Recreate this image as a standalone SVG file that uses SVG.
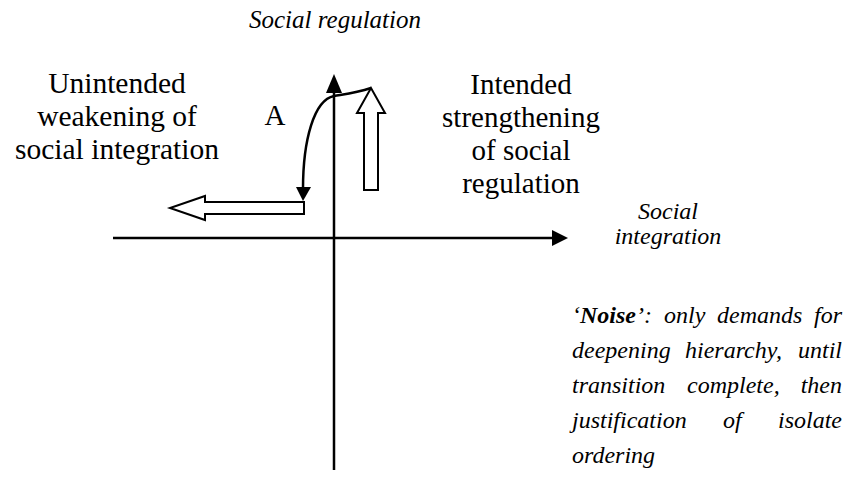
<svg xmlns="http://www.w3.org/2000/svg" width="852" height="481" viewBox="0 0 852 481">
<style>
.up{font-family:"Liberation Serif","Times New Roman",serif;font-size:29px;fill:#000;text-anchor:middle}
.it{font-family:"Liberation Serif","Times New Roman",serif;font-style:italic;font-size:24px;fill:#000}
.ln{stroke:#000;stroke-width:2.5;fill:none}
.hol{stroke:#000;stroke-width:2;fill:#fff;stroke-linejoin:miter}
.head{fill:#000;stroke:none}
</style>
<rect width="852" height="481" fill="#fff"/>
<g id="connectors">
  <g id="axis-y">
    <line class="ln" x1="334" y1="470" x2="334" y2="90"/>
    <polygon class="head" points="334,74 326,93 342,93"/>
  </g>
  <g id="axis-x">
    <line class="ln" x1="113" y1="238" x2="554" y2="238"/>
    <polygon class="head" points="568,238 552,230 552,246"/>
  </g>
  <g id="curve-A">
    <path class="ln" d="M371,88 C356,93 346,94 334,96 C314,100 303,140 303,189"/>
    <polygon class="head" points="303,201 296,187 311,187"/>
  </g>
</g>
<g id="arrow-up">
  <polygon class="hol" points="364,190 378,190 378,113 385,113 371,88 357,113 364,113"/>
</g>
<g id="arrow-left">
  <polygon class="hol" points="304,202 304,214 205,214 205,220 170,208 205,196 205,202"/>
</g>
<g id="label-y">
  <text class="it" x="335" y="28" text-anchor="middle" style="font-size:25px">Social regulation</text>
</g>
<g id="label-x">
  <text class="it" text-anchor="middle" x="668" y="219">Social</text>
  <text class="it" text-anchor="middle" x="668" y="244">integration</text>
</g>
<g id="label-left">
  <text class="up" x="117" y="93" style="font-size:29.5px">Unintended</text>
  <text class="up" x="117" y="126" style="font-size:29.5px">weakening of</text>
  <text class="up" x="117" y="159" style="font-size:29.5px">social integration</text>
</g>
<g id="label-right">
  <text class="up" x="521" y="94">Intended</text>
  <text class="up" x="521" y="127">strengthening</text>
  <text class="up" x="521" y="160">of social</text>
  <text class="up" x="521" y="193">regulation</text>
</g>
<g id="label-A">
  <text class="up" x="275" y="125">A</text>
</g>
<g id="noise">
  <text class="it" x="572" y="323">‘<tspan font-weight="bold">Noise</tspan>’:</text>
  <text class="it" x="664" y="323">only</text>
  <text class="it" x="717" y="323">demands</text>
  <text class="it" x="842" y="323" text-anchor="end">for</text>
  <text class="it" x="572" y="358">deepening</text>
  <text class="it" x="685" y="358">hierarchy,</text>
  <text class="it" x="842" y="358" text-anchor="end">until</text>
  <text class="it" x="572" y="393">transition</text>
  <text class="it" x="687" y="393">complete,</text>
  <text class="it" x="842" y="393" text-anchor="end">then</text>
  <text class="it" x="572" y="428">justification</text>
  <text class="it" x="723" y="428">of</text>
  <text class="it" x="842" y="428" text-anchor="end">isolate</text>
  <text class="it" x="572" y="463">ordering</text>
</g>
</svg>
